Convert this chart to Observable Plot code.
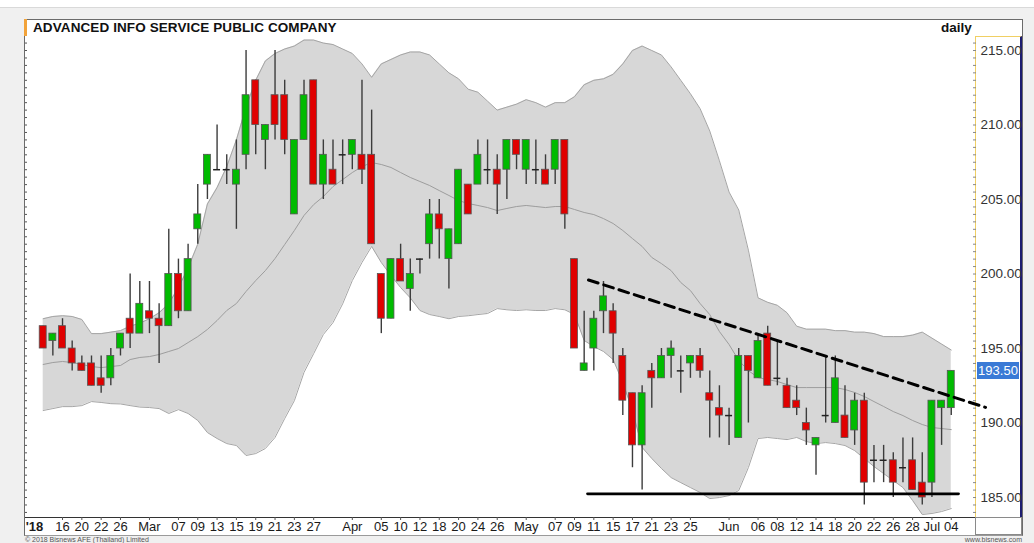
<!DOCTYPE html>
<html><head><meta charset="utf-8">
<script src="https://cdn.jsdelivr.net/npm/d3@7"></script>
<script src="https://cdn.jsdelivr.net/npm/@observablehq/plot@0.6"></script>
<style>
html,body{margin:0;padding:0;background:#fff;width:1034px;height:543px;overflow:hidden;font-family:"Liberation Sans",Arial,sans-serif;}
#wrap{position:relative;width:1034px;height:543px;}
.abs{position:absolute;box-sizing:border-box;}
#chart svg{position:absolute;left:0;top:0;overflow:visible;}
</style></head><body><div id="wrap">
<div class="abs" style="left:0;top:7px;width:1034px;height:536px;background:#f0f0f0;border-top:1px solid #d9d9d9"></div>
<div class="abs" style="left:24px;top:19px;width:999px;height:517px;background:#fff;border:1px solid #6b6b6b;border-bottom-color:#9a9a9a"></div>
<div class="abs" style="left:975px;top:36px;width:47px;height:482px;background:#fff;border-left:1px solid #f0cf63;border-top:1px solid #f0cf63;border-right:2px solid #1c1c70"></div>
<div class="abs" style="left:975px;top:517px;width:47px;height:18px;background:#fff;border:1px solid #8a8a8a"></div>
<div class="abs" style="left:24px;top:19px;width:3px;height:17px;background:#f2a33a"></div>
<div class="abs" id="title" style="left:33px;top:20px;font-weight:bold;font-size:13.5px;color:#111;letter-spacing:0.1px">ADVANCED INFO SERVICE PUBLIC COMPANY</div>
<div class="abs" style="left:941px;top:20px;font-weight:bold;font-size:13.5px;color:#111">daily</div>
<div class="abs" style="left:25px;top:536px;font-size:7px;color:#555">© 2018 Bisnews AFE (Thailand) Limited</div>
<div class="abs" style="left:960px;top:536px;width:62px;text-align:right;font-size:7px;color:#555">www.bisnews.com</div>
<div id="chart"></div>
<div class="abs" id="last" style="left:977px;width:42px;height:17px;background:#3a7ad6;color:#fff;font-size:13px;line-height:17px;text-align:center;display:none"></div>
</div>
<script>
// trading days (Feb 14 – Jul 4, 2018)
const dates = ["2018-02-14","2018-02-15","2018-02-16","2018-02-19","2018-02-20","2018-02-21","2018-02-22","2018-02-23","2018-02-26","2018-02-27","2018-02-28",
"2018-03-02","2018-03-05","2018-03-06","2018-03-07","2018-03-08","2018-03-09","2018-03-12","2018-03-13","2018-03-14","2018-03-15","2018-03-16","2018-03-19","2018-03-20","2018-03-21","2018-03-22","2018-03-23","2018-03-26","2018-03-27","2018-03-28","2018-03-29","2018-03-30",
"2018-04-02","2018-04-03","2018-04-04","2018-04-05","2018-04-09","2018-04-10","2018-04-11","2018-04-12","2018-04-17","2018-04-18","2018-04-19","2018-04-20","2018-04-23","2018-04-24","2018-04-25","2018-04-26","2018-04-27","2018-04-30",
"2018-05-02","2018-05-03","2018-05-04","2018-05-07","2018-05-08","2018-05-09","2018-05-10","2018-05-11","2018-05-14","2018-05-15","2018-05-16","2018-05-17","2018-05-18","2018-05-21","2018-05-22","2018-05-23","2018-05-24","2018-05-25","2018-05-28","2018-05-30","2018-05-31",
"2018-06-01","2018-06-04","2018-06-05","2018-06-06","2018-06-07","2018-06-08","2018-06-11","2018-06-12","2018-06-13","2018-06-14","2018-06-15","2018-06-18","2018-06-19","2018-06-20","2018-06-21","2018-06-22","2018-06-25","2018-06-26","2018-06-27","2018-06-28","2018-06-29",
"2018-07-02","2018-07-03","2018-07-04"];
const open = [196.5,195.5,196.5,195,194,194,193,193,195,197,196,197.5,197,196.5,200,197.5,203,206,207,207,206,208,213,209,212,212,204,209,213,206,207,208,208,208,208,200,197,201,199,201,202,204,201,202,206,206,207,207,207,209,207,207,207,207,209,201,193.5,195,197.5,197.5,194.5,192,188.5,193.5,193,194.5,193.5,194,194.5,192,191,190.5,189,194.5,193,196,193,192.5,191.5,190,188.5,190.5,190,190.5,189.5,191.5,187.5,187.5,187.5,187,187.5,186,186,191,191];
const high = [196.5,196,197,195.5,194.5,194.5,194.5,195,196,200,199.5,199.5,198,203,201,202,206,208,210,208,209,215,213,210,215,213,209,213,213,209,209,209,209,213,211,200,201,202,201,201,205,205,203,207,206,209,209,208,209,209,209,209,208,209,209,201,197.5,197.5,199.5,198,195,192,192.5,194,195,195.5,194.5,194.5,195,193.5,192.5,191,195,194.5,196,196.5,195.5,193,192.5,191,189,194.5,194.5,192.5,192,192,188.5,188.5,188,189,189,188,191.5,191.5,193.5];
const low = [195,194.5,195,193.5,193.5,192.5,192,192.5,194.5,195,196,196,194,196.5,197,197.5,202,205,207,206,203,207,208,207,209,208,204,209,206,205,206,206,207,206,202,196,197,199.5,197.5,200,201,201,199,202,204,206,206,204,205,207,206,206,206,206,203,195,193.5,193.5,196,194,190.5,187,185.5,191,193,193,192,193,193,189,189,188.5,189,190,193,192.5,192.5,191,190.5,188.5,186.5,190,190,189,188.5,184.5,186,186,185,186,185.5,184.5,185,188.5,190.5];
const close = [195,196,195,194,193.5,192.5,192.5,194.5,196,196,198,197,196.5,200,197.5,201,204,208,207,207,207,212,210,210,210,209,209,212,206,208,206,208,209,207,202,197,201,199.5,200,201,204,203,203,207,204,208,207,206,209,208,209,207,206,209,204,195,194,197,198.5,196,191.5,188.5,192,193,194.5,195,193.5,194.5,193.5,191.5,190.5,190.5,194.5,193.5,195.5,192.5,193,191,191,189.5,189,190.5,193,189,191.5,186,187.5,187.5,186,187,185.5,185,191.5,191.5,193.5];
// Bollinger bands
const upper = [197,197.15,197.2,197.15,196.95,196,196,196.1,196.2,196.5,196.7,197,197.4,198,199.1,200.4,202,204.7,205.8,207.2,209,211.2,213,214.3,214.8,215.1,215.3,215.7,215.7,215.5,215.4,215.1,214.8,214.1,213.2,214.1,214.4,214.7,214.9,214.9,214.7,214.1,213.5,213.1,212.4,212.2,211.6,211,211.2,211.4,211.7,211.5,211.2,211.5,211.5,211.9,212.7,213,213.1,213.4,214.1,215,215.3,215,214.7,213.9,213,212.1,211.1,209.6,207.6,205.5,204.3,201.6,198.4,198.1,197.9,197.4,196.5,196.3,196.3,196.3,196.2,196.2,196.1,196.1,196,195.8,195.8,195.8,195.9,196.1,195.7,195.3,194.9];
const middle = [193.93,194.06,194.13,194.06,193.93,193.79,193.72,193.79,193.86,194.26,194.4,194.46,194.6,194.8,195,195.4,195.8,196.28,196.88,197.55,198.02,198.83,199.56,200.23,201.04,201.98,202.92,203.93,204.66,205.2,205.87,206.34,206.81,207.21,207.48,207.35,207.15,206.81,206.48,206.21,205.94,205.6,205.27,204.93,204.73,204.6,204.46,204.26,204.4,204.53,204.6,204.53,204.46,204.53,204.53,204.33,204.13,203.99,203.72,203.39,202.92,202.38,201.85,201.11,200.7,200.23,199.43,198.89,198.02,197.28,196.14,195.27,194.2,193.52,193.05,192.92,192.79,192.58,192.38,192.38,192.38,192.38,192.38,192.25,192.05,191.78,191.44,191.11,190.77,190.5,190.17,189.9,189.7,189.63,189.56];
const lower = [190.84,190.97,191.1,191.1,191.17,191.44,191.38,191.3,191.28,191.17,191.07,191.04,190.97,190.64,190.9,190.64,190.17,189.36,188.96,188.62,188.49,187.82,187.95,188.29,189.03,190.3,191.5,193.4,194.66,195.94,196.74,198,199.56,200.77,201.85,200.77,199.9,199.09,198.4,197.55,197.28,197.15,197,197.15,197.2,197.28,197.35,197.68,197.6,197.55,197.6,197.55,197.55,197.68,197.6,197.28,195.54,195.13,194.8,194.26,192.72,190.84,188.36,187.62,186.95,186.34,186,185.67,185.34,184.93,185,185.13,185.47,187.01,188.96,189.03,188.96,188.89,189.03,188.76,188.62,188.69,188.62,188.49,188.15,187.62,187.08,186.61,186.14,185.67,184.8,183.86,183.93,184.06,184.26];
// drawn trendlines (position in trading-day index, price)
const trendIdx = [56.45, 97.55];
const trendPrice = [199.6, 191.05];
const supportIdx = [56.35, 94.75];
const supportPrice = [185.25, 185.25];
// axis labels
const tickIdx = [2,4,6,8,11,14,16,18,20,22,24,26,28,32,35,37,39,41,43,45,47,50,53,55,57,59,61,63,65,67,71,74,76,78,80,82,84,86,88,90,92,94];
const tickText = ["16","20","22","26","Mar","07","09","13","15","19","21","23","27","Apr","05","10","12","18","20","24","26","May","07","09","11","15","17","21","23","25","Jun","06","08","12","14","18","20","22","26","28","Jul","04"];
const yearIdx = [0];
const yearText = ["'18"];
const priceTicks = [185,190,195,200,205,210,215];
const minorTicks = d3.range(184, 215.51, 0.5);

const rows = dates.map((d,i)=>({i, date:d, open:open[i], high:high[i], low:low[i], close:close[i], upper:upper[i], middle:middle[i], lower:lower[i]}));
const up = rows.filter(d=>d.close>d.open);
const down = rows.filter(d=>d.close<d.open);
const flat = rows.filter(d=>d.close===d.open);
const hw = 0.36;
const trend = trendIdx.map((x,k)=>({x, y:trendPrice[k]}));
const support = supportIdx.map((x,k)=>({x, y:supportPrice[k]}));
const labelOf = new Map(tickIdx.map((t,k)=>[t,tickText[k]]));
const blank = () => "";

const chart = Plot.plot({
  width:1034, height:543,
  marginLeft:25, marginRight:59, marginTop:36, marginBottom:26,
  style:{background:"transparent", fontFamily:"'Liberation Sans', Arial, sans-serif", fontSize:"13px", color:"#1a1a1a", overflow:"visible"},
  x:{domain:[-1.832, 96.51], axis:null},
  y:{domain:[183.66, 215.94], axis:null},
  marks:[
    Plot.areaY(rows, {x:"i", y1:"lower", y2:"upper", fill:"#d7d7d7"}),
    Plot.lineY(rows, {x:"i", y:"upper", stroke:"#a5a5a5", strokeWidth:1}),
    Plot.lineY(rows, {x:"i", y:"lower", stroke:"#a5a5a5", strokeWidth:1}),
    Plot.lineY(rows, {x:"i", y:"middle", stroke:"#9d9d9d", strokeWidth:1}),
    Plot.ruleX(rows, {x:"i", y1:"low", y2:"high", stroke:"#3c3c3c", strokeWidth:1.4}),
    Plot.rect(up, {x1:d=>d.i-hw, x2:d=>d.i+hw, y1:"open", y2:"close", fill:"#00bb00", stroke:"#555", strokeWidth:0.8}),
    Plot.rect(down, {x1:d=>d.i-hw, x2:d=>d.i+hw, y1:"open", y2:"close", fill:"#e00000", stroke:"#555", strokeWidth:0.8}),
    Plot.ruleY(flat, {y:"close", x1:d=>d.i-hw, x2:d=>d.i+hw, stroke:"#222", strokeWidth:1.5}),
    Plot.line(trend, {x:"x", y:"y", stroke:"#000", strokeWidth:3, strokeDasharray:"10,6"}),
    Plot.line(support, {x:"x", y:"y", stroke:"#000", strokeWidth:2.8}),
    Plot.ruleY([183.66], {stroke:"#333", strokeWidth:1}),
    Plot.axisY({anchor:"left", ticks:minorTicks, tickSize:2, dx:2, tickFormat:blank, stroke:"#555"}),
    Plot.axisY({anchor:"right", ticks:minorTicks, tickSize:3, dx:-3, tickFormat:blank, stroke:"#888"}),
    Plot.axisY({anchor:"right", ticks:priceTicks, tickSize:0, tickPadding:5, tickFormat:d=>d.toFixed(2), fill:"#333", fontSize:13.5}),
    Plot.axisX({anchor:"bottom", ticks:tickIdx, tickSize:3, tickPadding:1.5, tickFormat:d=>labelOf.get(d), stroke:"#555", fill:"#1a1a1a", fontSize:13}),
    Plot.text(yearIdx, {x:d=>d, text:(d,k)=>yearText[k], frameAnchor:"bottom", textAnchor:"end", lineAnchor:"top", dy:4.5, fontWeight:"bold", fontSize:13, fill:"#1a1a1a"})
  ]
});
document.getElementById("chart").appendChild(chart);
const yy = chart.scale("y").apply(close[close.length-1]);
const last = document.getElementById("last");
last.style.top = (yy-8.5)+"px";
last.style.display = "block";
last.textContent = close[close.length-1].toFixed(2);
</script>
</body></html>
